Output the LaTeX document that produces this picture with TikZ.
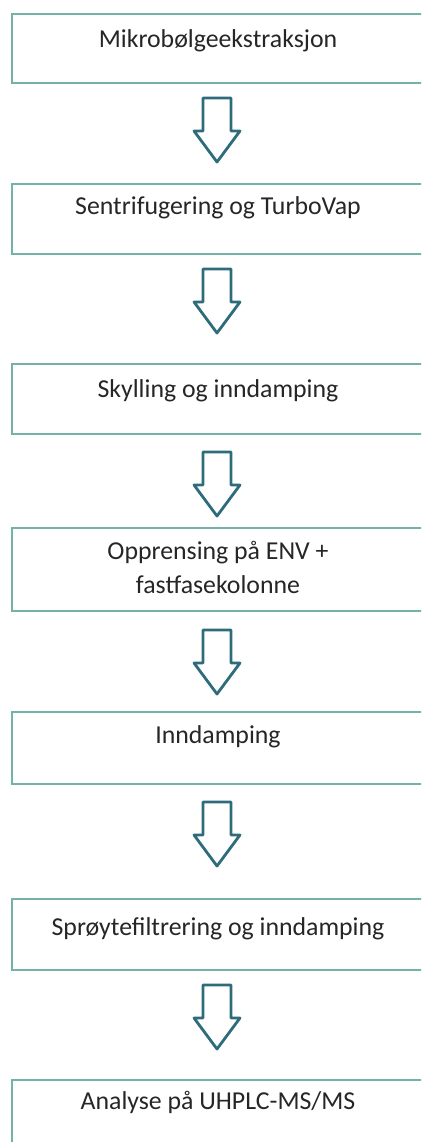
\documentclass[tikz,border=0pt]{standalone}
\usepackage{fontspec}
\setmainfont{Carlito}
\begin{document}
\begin{tikzpicture}[x=1pt,y=-1pt,
  box/.style={draw=boxteal, line width=1.6pt, fill=white, inner sep=0pt, anchor=north west, minimum width=430pt},
  lbl/.style={anchor=base, inner sep=0pt, font=\fontsize{25.8}{30}\selectfont, text=black!85},
  arrowline/.style={draw=arrowteal, line width=2.8pt, line join=round, fill=white},
  downarrow/.pic={
    \path[arrowline] (-14,0) -- (14,0) -- (14,33) -- (23,33) -- (0,64) -- (-23,33) -- (-14,33) -- cycle;
  }]
\definecolor{boxteal}{HTML}{72B2A8}
\definecolor{arrowteal}{HTML}{2E6C7C}
\useasboundingbox (0,0) rectangle (421,1142);
\clip (0,0) rectangle (421,1142);
% boxes
\node[box, minimum height=69pt] (b1) at (11,13) {};
\node[box, minimum height=70pt] (b2) at (11,183) {};
\node[box, minimum height=70pt] (b3) at (11,363) {};
\node[box, minimum height=83pt] (b4) at (11,527) {};
\node[box, minimum height=72pt] (b5) at (11,711) {};
\node[box, minimum height=71pt] (b6) at (11,898) {};
\node[box, minimum height=90pt] (b7) at (11,1079) {};
% labels
\node[lbl] (t1) at (218,48) {Mikrobølgeekstraksjon};
\node[lbl] (t2) at (218,214) {Sentrifugering og TurboVap};
\node[lbl] (t3) at (218,397) {Skylling og inndamping};
\node[lbl] (t4a) at (218,559) {Opprensing på ENV +};
\node[lbl] (t4b) at (218,593) {fastfasekolonne};
\node[lbl] (t5) at (218,743) {Inndamping};
\node[lbl] (t6) at (218,935) {Sprøytefiltrering og inndamping};
\node[lbl] (t7) at (218,1109) {Analyse på UHPLC-MS/MS};
% arrows
\pic at (217,98) {downarrow};
\pic at (217,269) {downarrow};
\pic at (217,452) {downarrow};
\pic at (217,630) {downarrow};
\pic at (217,802) {downarrow};
\pic at (217,985) {downarrow};
\end{tikzpicture}
\end{document}
